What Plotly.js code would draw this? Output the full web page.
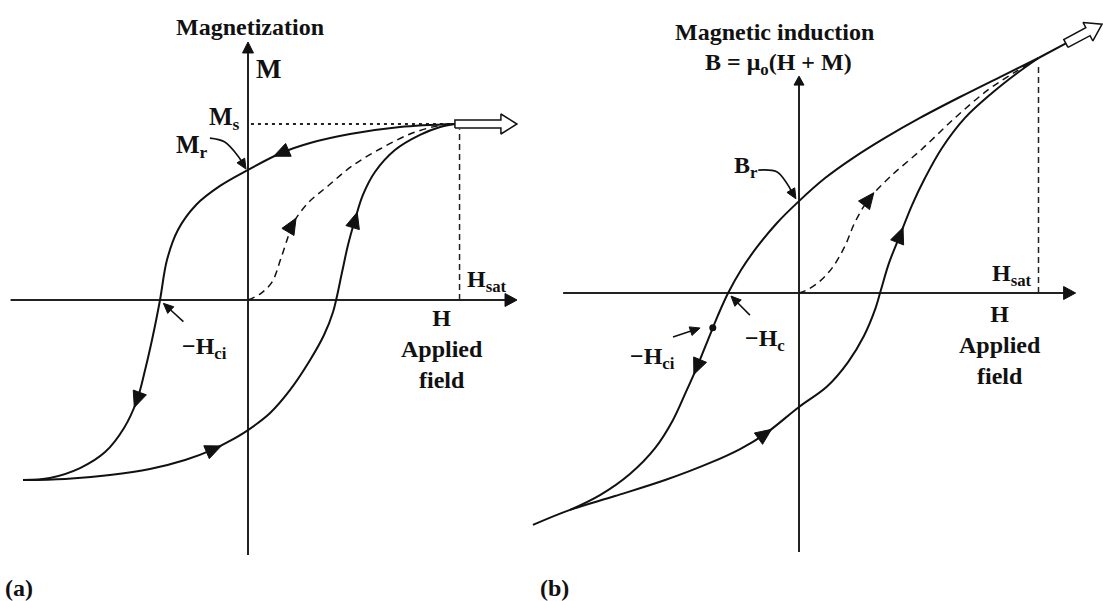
<!DOCTYPE html>
<html>
<head>
<meta charset="utf-8">
<script src="https://cdn.plot.ly/plotly-3.0.1.min.js"></script>
<style>
  html, body { margin: 0; padding: 0; background: #fff; }
  #chart { width: 1103px; height: 601px; }
</style>
</head>
<body>
<div id="chart"></div>
<script>
// (a) M-H loop, H in units of Hsat, M in units of Ms
let descH_a = [0.983, 0.722, 0.485, 0.295, 0.157, 0, -0.133, -0.247, -0.333, -0.385, -0.418, -0.451, -0.489, -0.527, -0.589, -0.679, -0.798, -0.941, -1.069];
let descM_a = [1.0, 0.983, 0.943, 0.892, 0.835, 0.739, 0.648, 0.540, 0.398, 0.227, 0, -0.199, -0.398, -0.568, -0.727, -0.864, -0.955, -1.011, -1.023];
let ascH_a = [-1.069, -0.869, -0.656, -0.466, -0.299, -0.162, -0.086, 0, 0.105, 0.200, 0.295, 0.361, 0.404, 0.447, 0.475, 0.508, 0.546, 0.603, 0.698, 0.817, 0.913, 0.983];
let ascM_a = [-1.023, -1.017, -0.994, -0.960, -0.909, -0.847, -0.801, -0.739, -0.642, -0.511, -0.341, -0.199, -0.068, 0.159, 0.313, 0.455, 0.597, 0.727, 0.852, 0.938, 0.983, 1.0];
let initH_a = [0, 0.057, 0.114, 0.157, 0.190, 0.209, 0.285, 0.380, 0.494, 0.627, 0.770, 0.898, 0.983];
let initM_a = [0, 0.034, 0.102, 0.239, 0.358, 0.426, 0.551, 0.648, 0.761, 0.858, 0.943, 0.989, 1.0];

// (b) B-H loop, H in units of Hsat, B in units of B at Hsat
let descH_b = [1.0, 0.839, 0.672, 0.505, 0.359, 0.225, 0.109, 0, -0.092, -0.175, -0.242, -0.296, -0.338, -0.372, -0.426, -0.472, -0.526, -0.601, -0.706, -0.831, -0.956];
let descB_b = [1.0, 0.919, 0.834, 0.745, 0.660, 0.574, 0.489, 0.391, 0.298, 0.196, 0.098, 0, -0.094, -0.179, -0.315, -0.421, -0.540, -0.660, -0.770, -0.860, -0.923];
let ascH_b = [-1.111, -0.956, -0.768, -0.559, -0.372, -0.246, -0.142, 0, 0.117, 0.205, 0.271, 0.317, 0.342, 0.376, 0.422, 0.472, 0.526, 0.597, 0.693, 0.806, 0.906, 1.0];
let ascB_b = [-0.987, -0.923, -0.864, -0.796, -0.723, -0.664, -0.600, -0.485, -0.398, -0.294, -0.183, -0.072, 0.013, 0.128, 0.247, 0.374, 0.489, 0.617, 0.745, 0.851, 0.932, 1.0];
let initH_b = [0, 0.025, 0.079, 0.138, 0.192, 0.234, 0.292, 0.380, 0.514, 0.651, 0.789, 0.902, 1.0];
let initB_b = [0, 0.009, 0.043, 0.106, 0.200, 0.302, 0.400, 0.494, 0.613, 0.745, 0.864, 0.940, 1.0];

// which points of each curve carry a direction arrow
let arrowsDesc_a = [4, 13];
let arrowsAsc_a = [5, 15];
let arrowsInit_a = [5];
let arrowsDesc_b = [14];
let arrowsAsc_b = [6, 14];
let arrowsInit_b = [6];

// -Hci point on the B-H loop
let Hci_b = -0.360;
let HciB_b = -0.148;

// panel placement: pixel of the origin and pixels per unit
const W = 1103, Hgt = 601;
let panelA = {ox: 248, oy: 300, sx: 210.5, sy: 176, xa: "x", ya: "y"};
let panelB = {ox: 799, oy: 293, sx: 239.5, sy: 235, xa: "x2", ya: "y2"};

const INK = "#111";
let traces = [];

function curve(p, xs, ys, dash, width) {
  traces.push({
    x: xs, y: ys, xaxis: p.xa, yaxis: p.ya, mode: "lines", hoverinfo: "skip",
    line: {color: INK, width: width || 2, shape: "spline", smoothing: 1, dash: dash || "solid"}
  });
}

function straight(p, xs, ys, dash, width, color) {
  traces.push({
    x: xs, y: ys, xaxis: p.xa, yaxis: p.ya, mode: "lines", hoverinfo: "skip",
    line: {color: color || INK, width: width || 2, dash: dash || "solid"}
  });
}

// unit direction in screen space (y up) between two data points
function dirOf(p, x0, y0, x1, y1) {
  let dx = (x1 - x0) * p.sx, dy = (y1 - y0) * p.sy;
  let l = Math.hypot(dx, dy);
  return [dx / l, dy / l];
}

// filled triangle, ahead = share of its length in front of the point
function head(p, x, y, d, len, hw, ahead) {
  let nx = -d[1], ny = d[0];
  let tip = [d[0] * len * ahead, d[1] * len * ahead];
  let b = [-d[0] * len * (1 - ahead), -d[1] * len * (1 - ahead)];
  let pts = [tip, [b[0] + nx * hw, b[1] + ny * hw], [b[0] - nx * hw, b[1] - ny * hw], tip];
  traces.push({
    x: pts.map(q => x + q[0] / p.sx), y: pts.map(q => y + q[1] / p.sy),
    xaxis: p.xa, yaxis: p.ya, mode: "lines", fill: "toself", fillcolor: INK,
    line: {color: INK, width: 1}, hoverinfo: "skip"
  });
}

function curveArrows(p, xs, ys, idx) {
  idx.forEach(i => {
    let d = dirOf(p, xs[i - 1], ys[i - 1], xs[i + 1], ys[i + 1]);
    head(p, xs[i], ys[i], d, 16, 7, 0.5);
  });
}

function pointer(p, xs, ys) {
  let n = xs.length;
  let d = dirOf(p, xs[n - 2], ys[n - 2], xs[n - 1], ys[n - 1]);
  // stop the line short of the tip so the head stays sharp
  let xs2 = xs.slice(), ys2 = ys.slice();
  xs2[n - 1] -= d[0] * 8 / p.sx;
  ys2[n - 1] -= d[1] * 8 / p.sy;
  curve(p, xs2, ys2, "solid", 1.6);
  head(p, xs[n - 1], ys[n - 1], d, 10, 4.5, 0);
}

function axes(p, xmin, xmax, ymin, ymax, hlen, hw, vlen, vw) {
  straight(p, [xmin, xmax - hlen / p.sx], [0, 0], "solid", 2, "#222");
  head(p, xmax, 0, [1, 0], hlen, hw, 0);
  straight(p, [0, 0], [ymin, ymax - vlen / p.sy], "solid", 2, "#222");
  head(p, 0, ymax, [0, 1], vlen, vw, 0);
}

// open block arrow leaving the saturation point
function blockArrow(p, x, y, angle, gap, shaft, headLen, sw, hw) {
  let a = angle * Math.PI / 180;
  let d = [Math.cos(a), Math.sin(a)], n = [-d[1], d[0]];
  let along = [[gap, -sw], [gap + shaft, -sw], [gap + shaft, -hw], [gap + shaft + headLen, 0],
               [gap + shaft, hw], [gap + shaft, sw], [gap, sw], [gap, -sw]];
  let px = along.map(q => d[0] * q[0] + n[0] * q[1]);
  let py = along.map(q => d[1] * q[0] + n[1] * q[1]);
  if (gap > 0) straight(p, [x, x + d[0] * gap / p.sx], [y, y + d[1] * gap / p.sy], "solid", 2);
  traces.push({
    x: px.map(v => x + v / p.sx), y: py.map(v => y + v / p.sy),
    xaxis: p.xa, yaxis: p.ya, mode: "lines", fill: "toself", fillcolor: "#fff",
    line: {color: INK, width: 1.5}, hoverinfo: "skip"
  });
}

// ---- panel (a)
axes(panelA, -1.128, 1.278, -1.449, 1.466, 12, 6.5, 11, 5.5);
straight(panelA, [0.014, 0.983], [1, 1], "3px,4px", 2, "#222");
straight(panelA, [1.005, 1.005], [0, 0.97], "6px,4px", 1.5, "#222");
curve(panelA, initH_a, initM_a, "7px,5px", 1.5);
curve(panelA, descH_a, descM_a);
curve(panelA, ascH_a, ascM_a);
curveArrows(panelA, descH_a, descM_a, arrowsDesc_a);
curveArrows(panelA, ascH_a, ascM_a, arrowsAsc_a);
curveArrows(panelA, initH_a, initM_a, arrowsInit_a);
blockArrow(panelA, 0.983, 1.0, 0, 0, 46, 16, 4, 10);
pointer(panelA, [-0.181, -0.112, -0.045, -0.0095], [0.920, 0.899, 0.814, 0.744]);
pointer(panelA, [-0.307, -0.402], [-0.123, -0.019]);

// ---- panel (b)
axes(panelB, -0.985, 1.155, -1.102, 0.923, 12, 6.5, 9, 5);
straight(panelB, [1, 1], [0, 0.97], "6px,4px", 1.5, "#222");
curve(panelB, initH_b, initB_b, "7px,5px", 1.5);
curve(panelB, descH_b, descB_b);
curve(panelB, ascH_b, ascB_b);
curveArrows(panelB, descH_b, descB_b, arrowsDesc_b);
curveArrows(panelB, ascH_b, ascB_b, arrowsAsc_b);
curveArrows(panelB, initH_b, initB_b, arrowsInit_b);
blockArrow(panelB, 1.0, 1.0, 28, 31, 25, 16, 4.5, 10.5);
pointer(panelB, [-0.170, -0.093, -0.051, -0.013], [0.523, 0.516, 0.467, 0.401]);
pointer(panelB, [-0.205, -0.284], [-0.094, -0.013]);
pointer(panelB, [-0.526, -0.413], [-0.187, -0.149]);
traces.push({
  x: [Hci_b], y: [HciB_b], xaxis: "x2", yaxis: "y2", mode: "markers", hoverinfo: "skip",
  marker: {color: INK, size: 7, symbol: "circle"}
});

// ---- labels
const FONT = {family: "Liberation Serif, Times New Roman, serif", size: 24, color: "#111", weight: "bold"};
function label(p, x, y, text, xanchor, size) {
  return {xref: p.xa, yref: p.ya, x: x, y: y, text: text, showarrow: false,
          xanchor: xanchor || "center", yanchor: "middle", align: "center",
          font: Object.assign({}, FONT, size ? {size: size} : {})};
}
let annotations = [
  label(panelA, 0.0095, 1.551, "Magnetization"),
  label(panelA, 0.0285, 1.3125, "M", "left", 27),
  label(panelA, -0.0285, 1.034, "M<sub>s</sub>", "right", 25),
  label(panelA, -0.266, 0.875, "M<sub>r</sub>", "center", 25),
  label(panelA, 1.031, 0.11, "H<sub>sat</sub>", "left"),
  label(panelA, -0.209, -0.27, "−H<sub>ci</sub>"),
  label(panelA, 0.922, -0.278, "H<br>Applied<br>field"),
  label(panelB, -0.102, 1.111, "Magnetic induction"),
  label(panelB, -0.086, 0.975, "B = μ<sub>o</sub>(H + M)"),
  label(panelB, -0.223, 0.538, "B<sub>r</sub>"),
  label(panelB, 0.797, 0.078, "H<sub>sat</sub>", "left"),
  label(panelB, -0.142, -0.202, "−H<sub>c</sub>"),
  label(panelB, -0.610, -0.278, "−H<sub>ci</sub>"),
  label(panelB, 0.839, -0.221, "H<br>Applied<br>field"),
  {xref: "paper", yref: "paper", x: 3 / W, y: 1 - 588 / Hgt, text: "(a)", showarrow: false,
   xanchor: "left", yanchor: "middle", font: FONT},
  {xref: "paper", yref: "paper", x: 538 / W, y: 1 - 588 / Hgt, text: "(b)", showarrow: false,
   xanchor: "left", yanchor: "middle", font: FONT}
];

function axisRange(o, s, size, flip) {
  return flip ? [(o - size) / s, o / s] : [-o / s, (size - o) / s];
}

let hidden = {visible: false, showgrid: false, zeroline: false, fixedrange: true};
let layout = {
  width: W, height: Hgt,
  margin: {l: 0, r: 0, t: 0, b: 0, pad: 0},
  paper_bgcolor: "#fff", plot_bgcolor: "#fff",
  showlegend: false,
  xaxis: Object.assign({range: axisRange(panelA.ox, panelA.sx, W, false), domain: [0, 1]}, hidden),
  yaxis: Object.assign({range: axisRange(panelA.oy, panelA.sy, Hgt, true), domain: [0, 1]}, hidden),
  xaxis2: Object.assign({range: axisRange(panelB.ox, panelB.sx, W, false), overlaying: "x", anchor: "y2"}, hidden),
  yaxis2: Object.assign({range: axisRange(panelB.oy, panelB.sy, Hgt, true), overlaying: "y", anchor: "x2"}, hidden),
  annotations: annotations
};

Plotly.newPlot("chart", traces, layout, {staticPlot: true});
</script>
</body>
</html>
